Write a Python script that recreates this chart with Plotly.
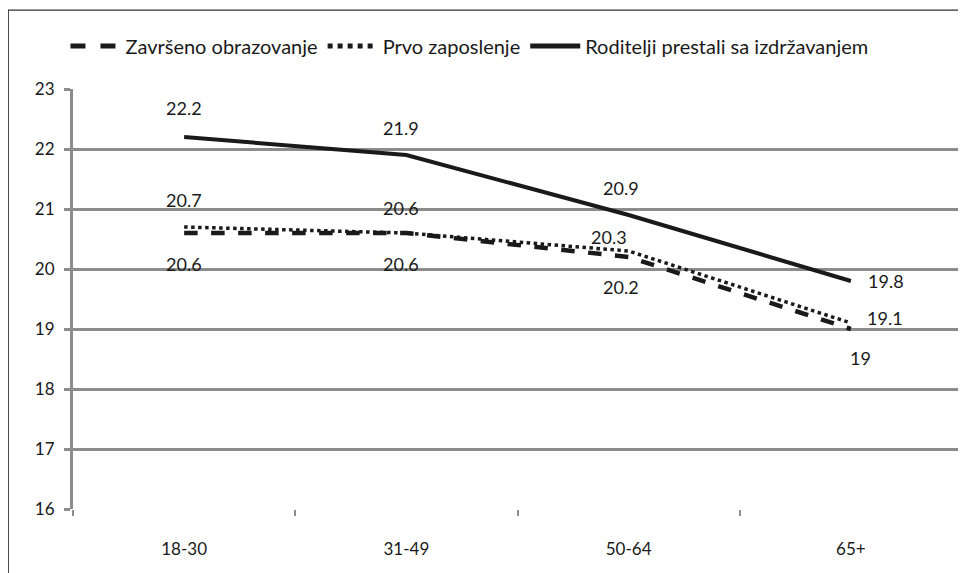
import plotly.graph_objects as go

categories = ["18-30", "31-49", "50-64", "65+"]
zavrseno = [20.6, 20.6, 20.2, 19.0]
prvo = [20.7, 20.6, 20.3, 19.1]
roditelji = [22.2, 21.9, 20.9, 19.8]
y_ticks = [16, 17, 18, 19, 20, 21, 22, 23]

# label offsets in pixels (style only): (xshift, yshift)
off_zav = [(0, -31), (-5, -31), (-8, -30), (10, -29)]
off_prvo = [(0, 27), (-5, 25), (-20, 14), (34, 5)]
off_rod = [(0, 29), (-5, 27), (-8, 27), (35, 0)]

FONT = "Lato, Liberation Sans, Arial"
BLACK = "#1a1a1a"
GRID = "#8c8c8c"

def fmt(v):
    return f"{v:g}"

fig = go.Figure()
fig.add_trace(go.Scatter(
    x=categories, y=zavrseno, name="Završeno obrazovanje", mode="lines",
    line=dict(color=BLACK, width=4.5, dash="dash"),
))
fig.add_trace(go.Scatter(
    x=categories, y=prvo, name="Prvo zaposlenje", mode="lines",
    line=dict(color=BLACK, width=3.5, dash="dot"),
))
fig.add_trace(go.Scatter(
    x=categories, y=roditelji, name="Roditelji prestali sa izdržavanjem", mode="lines",
    line=dict(color=BLACK, width=4),
))

annotations = []
for series, offs in ((zavrseno, off_zav), (prvo, off_prvo), (roditelji, off_rod)):
    for cat, v, (dx, dy) in zip(categories, series, offs):
        annotations.append(dict(
            x=cat, y=v, xref="x", yref="y", text=fmt(v), showarrow=False,
            xshift=dx, yshift=dy, xanchor="center", yanchor="middle",
            font=dict(family=FONT, size=18, color=BLACK),
        ))

fig.update_layout(
    width=958, height=565,
    margin=dict(l=65, r=4, t=81, b=64, autoexpand=False),
    paper_bgcolor="white", plot_bgcolor="white",
    font=dict(family=FONT, size=16, color=BLACK),
    showlegend=True,
    legend=dict(orientation="h", x=0.06, xref="container", y=0.9327, yref="container",
                xanchor="left", yanchor="middle", bgcolor="rgba(0,0,0,0)",
                font=dict(family=FONT, size=20, color=BLACK), itemwidth=50,
                itemsizing="constant"),
    xaxis=dict(type="category", range=[-0.5, 3.5], tickson="boundaries",
               ticks="outside", ticklen=6, tickcolor=GRID, tickwidth=2,
               showgrid=False, showline=False, zeroline=False,
               ticklabelstandoff=28,
               tickfont=dict(family=FONT, size=17, color=BLACK)),
    yaxis=dict(range=[16, 23], tickvals=y_ticks, ticks="outside", ticklen=6,
               tickcolor=GRID, tickwidth=2.5, showgrid=True, gridcolor=GRID,
               gridwidth=3, showline=True, linecolor=GRID, linewidth=3,
               zeroline=False, ticklabelstandoff=6,
               tickfont=dict(family=FONT, size=17, color=BLACK)),
    annotations=annotations,
    shapes=[dict(type="rect", xref="paper", yref="paper",
                 x0=-0.0728, x1=1.0034, y0=-0.3, y1=1.188,
                 line=dict(color="#333333", width=1.2), fillcolor="rgba(0,0,0,0)",
                 layer="below")],
)

fig.write_html("out.html")
